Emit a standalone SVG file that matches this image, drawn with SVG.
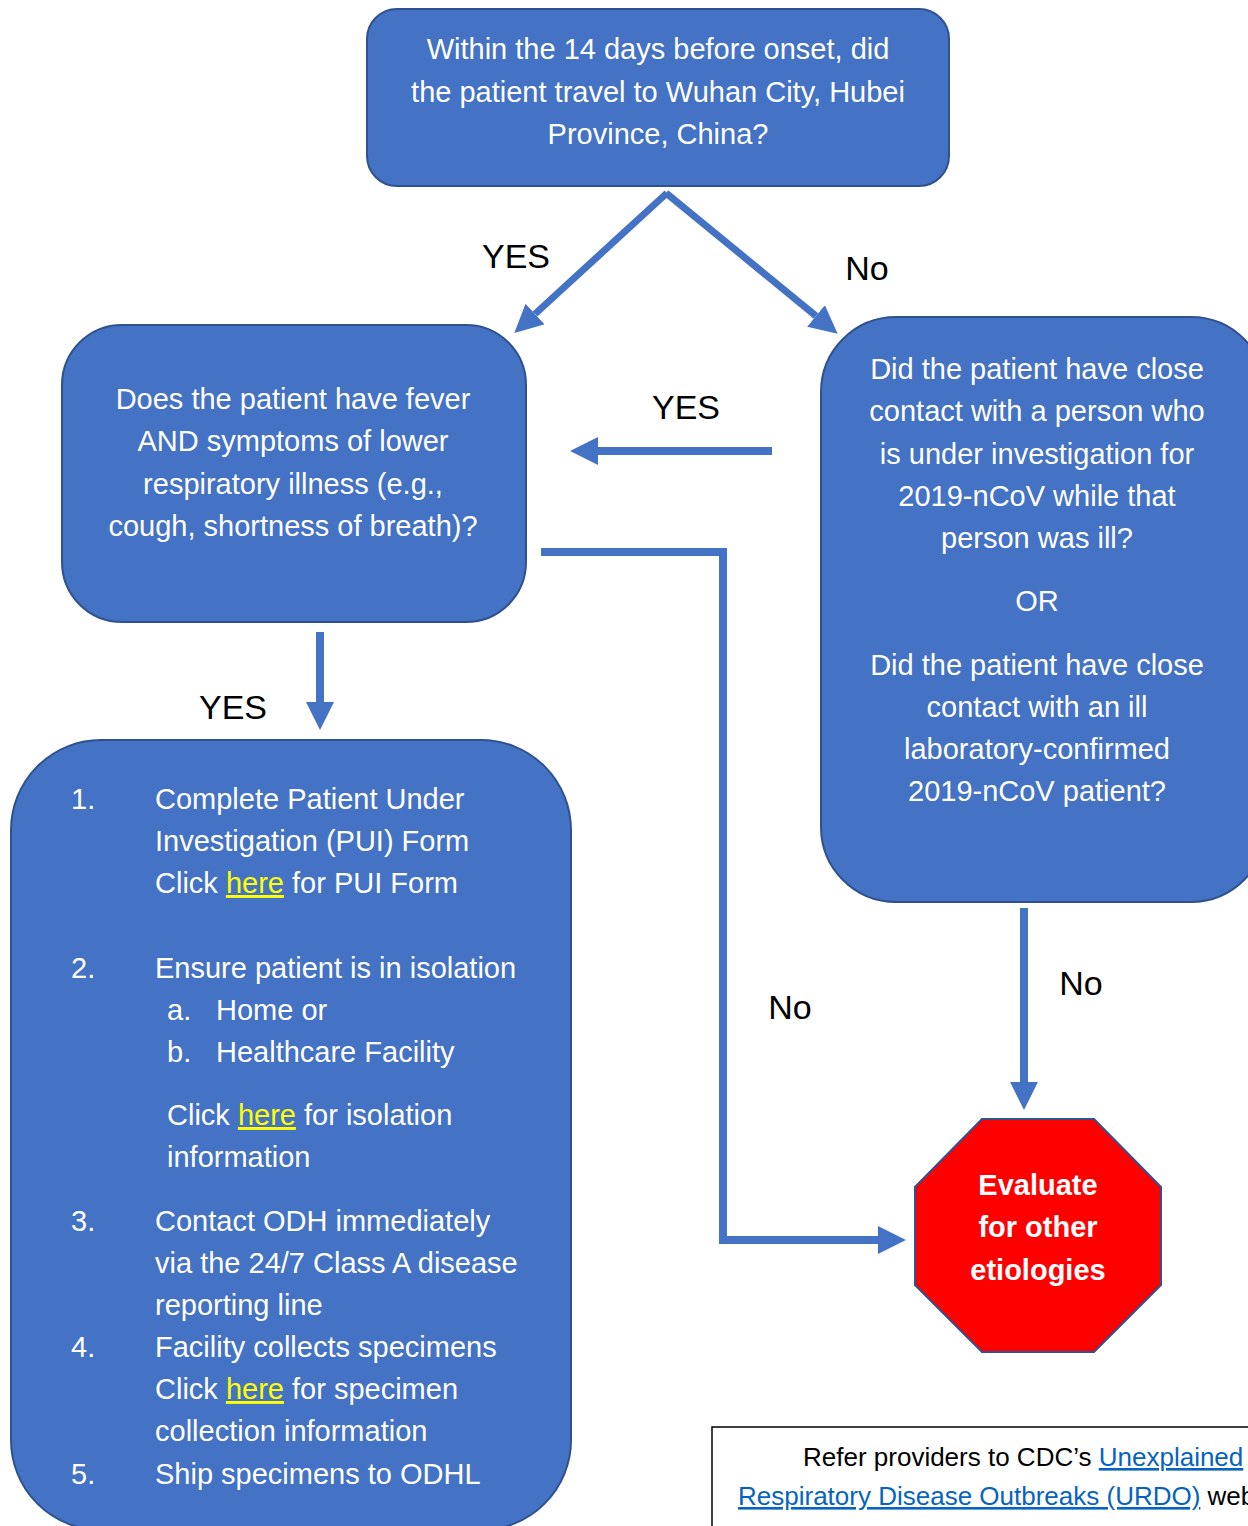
<svg xmlns="http://www.w3.org/2000/svg" width="1248" height="1526" viewBox="0 0 1248 1526">
<style>
.box{fill:#4472C4;stroke:#2F528F;stroke-width:2}
.bt{font-family:"Liberation Sans",Arial,sans-serif;font-size:29px;fill:#fff}
.c{text-anchor:middle}
.lbl{font-family:"Liberation Sans",Arial,sans-serif;font-size:34px;fill:#000;text-anchor:middle}
.lnk{fill:#FFFF00;text-decoration:underline}
.con{fill:none;stroke:#4472C4;stroke-width:8}
.ref{font-family:"Liberation Sans",Arial,sans-serif;font-size:26px;fill:#000}
.url{fill:#0563C1;text-decoration:underline}
</style>
<defs>
<marker id="ah" viewBox="0 0 28 28" refX="0" refY="14" markerWidth="28" markerHeight="28" markerUnits="userSpaceOnUse" orient="auto">
<path d="M0,0 L28,14 L0,28 z" fill="#4472C4"/>
</marker>
</defs>
<rect width="1248" height="1526" fill="#fff"/>
<g id="connectors">
<line class="con" x1="667" y1="193" x2="535" y2="314" style="stroke-width:7" marker-end="url(#ah)"/>
<line class="con" x1="666" y1="193" x2="816" y2="316" style="stroke-width:7" marker-end="url(#ah)"/>
<line class="con" x1="772" y1="451" x2="598" y2="451" marker-end="url(#ah)"/>
<polyline class="con" points="541,552 723,552 723,1240 878,1240" marker-end="url(#ah)"/>
<line class="con" x1="320" y1="632" x2="320" y2="702" marker-end="url(#ah)"/>
<line class="con" x1="1024" y1="908" x2="1024" y2="1082" marker-end="url(#ah)"/>
<text class="lbl" x="516" y="268">YES</text>
<text class="lbl" x="867" y="280">No</text>
<text class="lbl" x="686" y="419">YES</text>
<text class="lbl" x="233" y="719">YES</text>
<text class="lbl" x="790" y="1019">No</text>
<text class="lbl" x="1081" y="995">No</text>
</g>
<g id="q-travel">
<rect class="box" x="367" y="9" width="582" height="177" rx="30"/>
<text class="bt c" x="658" y="59">Within the 14 days before onset, did</text>
<text class="bt c" x="658" y="102">the patient travel to Wuhan City, Hubei</text>
<text class="bt c" x="658" y="144">Province, China?</text>
</g>
<g id="q-symptoms">
<rect class="box" x="62" y="325" width="464" height="297" rx="60"/>
<text class="bt c" x="293" y="409">Does the patient have fever</text>
<text class="bt c" x="293" y="451">AND symptoms of lower</text>
<text class="bt c" x="293" y="494">respiratory illness (e.g.,</text>
<text class="bt c" x="293" y="536">cough, shortness of breath)?</text>
</g>
<g id="q-contact">
<rect class="box" x="821" y="317" width="445" height="585" rx="75"/>
<text class="bt c" x="1037" y="379">Did the patient have close</text>
<text class="bt c" x="1037" y="421">contact with a person who</text>
<text class="bt c" x="1037" y="464">is under investigation for</text>
<text class="bt c" x="1037" y="506">2019-nCoV while that</text>
<text class="bt c" x="1037" y="548">person was ill?</text>
<text class="bt c" x="1037" y="611">OR</text>
<text class="bt c" x="1037" y="675">Did the patient have close</text>
<text class="bt c" x="1037" y="717">contact with an ill</text>
<text class="bt c" x="1037" y="759">laboratory-confirmed</text>
<text class="bt c" x="1037" y="801">2019-nCoV patient?</text>
</g>
<g id="actions">
<rect class="box" x="11" y="740" width="560" height="790" rx="90"/>
<text class="bt" x="71" y="809">1.</text>
<text class="bt" x="155" y="809">Complete Patient Under</text>
<text class="bt" x="155" y="851">Investigation (PUI) Form</text>
<text class="bt" x="155" y="893">Click <tspan class="lnk">here</tspan> for PUI Form</text>
<text class="bt" x="71" y="978">2.</text>
<text class="bt" x="155" y="978">Ensure patient is in isolation</text>
<text class="bt" x="167" y="1020">a.</text>
<text class="bt" x="216" y="1020">Home or</text>
<text class="bt" x="167" y="1062">b.</text>
<text class="bt" x="216" y="1062">Healthcare Facility</text>
<text class="bt" x="167" y="1125">Click <tspan class="lnk">here</tspan> for isolation</text>
<text class="bt" x="167" y="1167">information</text>
<text class="bt" x="71" y="1231">3.</text>
<text class="bt" x="155" y="1231">Contact ODH immediately</text>
<text class="bt" x="155" y="1273">via the 24/7 Class A disease</text>
<text class="bt" x="155" y="1315">reporting line</text>
<text class="bt" x="71" y="1357">4.</text>
<text class="bt" x="155" y="1357">Facility collects specimens</text>
<text class="bt" x="155" y="1399">Click <tspan class="lnk">here</tspan> for specimen</text>
<text class="bt" x="155" y="1441">collection information</text>
<text class="bt" x="71" y="1484">5.</text>
<text class="bt" x="155" y="1484">Ship specimens to ODHL</text>
</g>
<g id="stop">
<polygon points="982,1119 1094,1119 1161,1187 1161,1285 1094,1352 982,1352 915,1285 915,1187" fill="#FF0000" stroke="#2F528F" stroke-width="2"/>
<text class="bt c" x="1038" y="1195" font-weight="bold">Evaluate</text>
<text class="bt c" x="1038" y="1237" font-weight="bold">for other</text>
<text class="bt c" x="1038" y="1280" font-weight="bold">etiologies</text>
</g>
<g id="refer">
<rect x="712" y="1427" width="600" height="200" fill="#fff" stroke="#000" stroke-width="1.5"/>
<text class="ref" x="803" y="1466">Refer providers to CDC’s <tspan class="url">Unexplained</tspan></text>
<text class="ref" x="738" y="1505"><tspan class="url">Respiratory Disease Outbreaks (URDO)</tspan> website</text>
</g>
</svg>
